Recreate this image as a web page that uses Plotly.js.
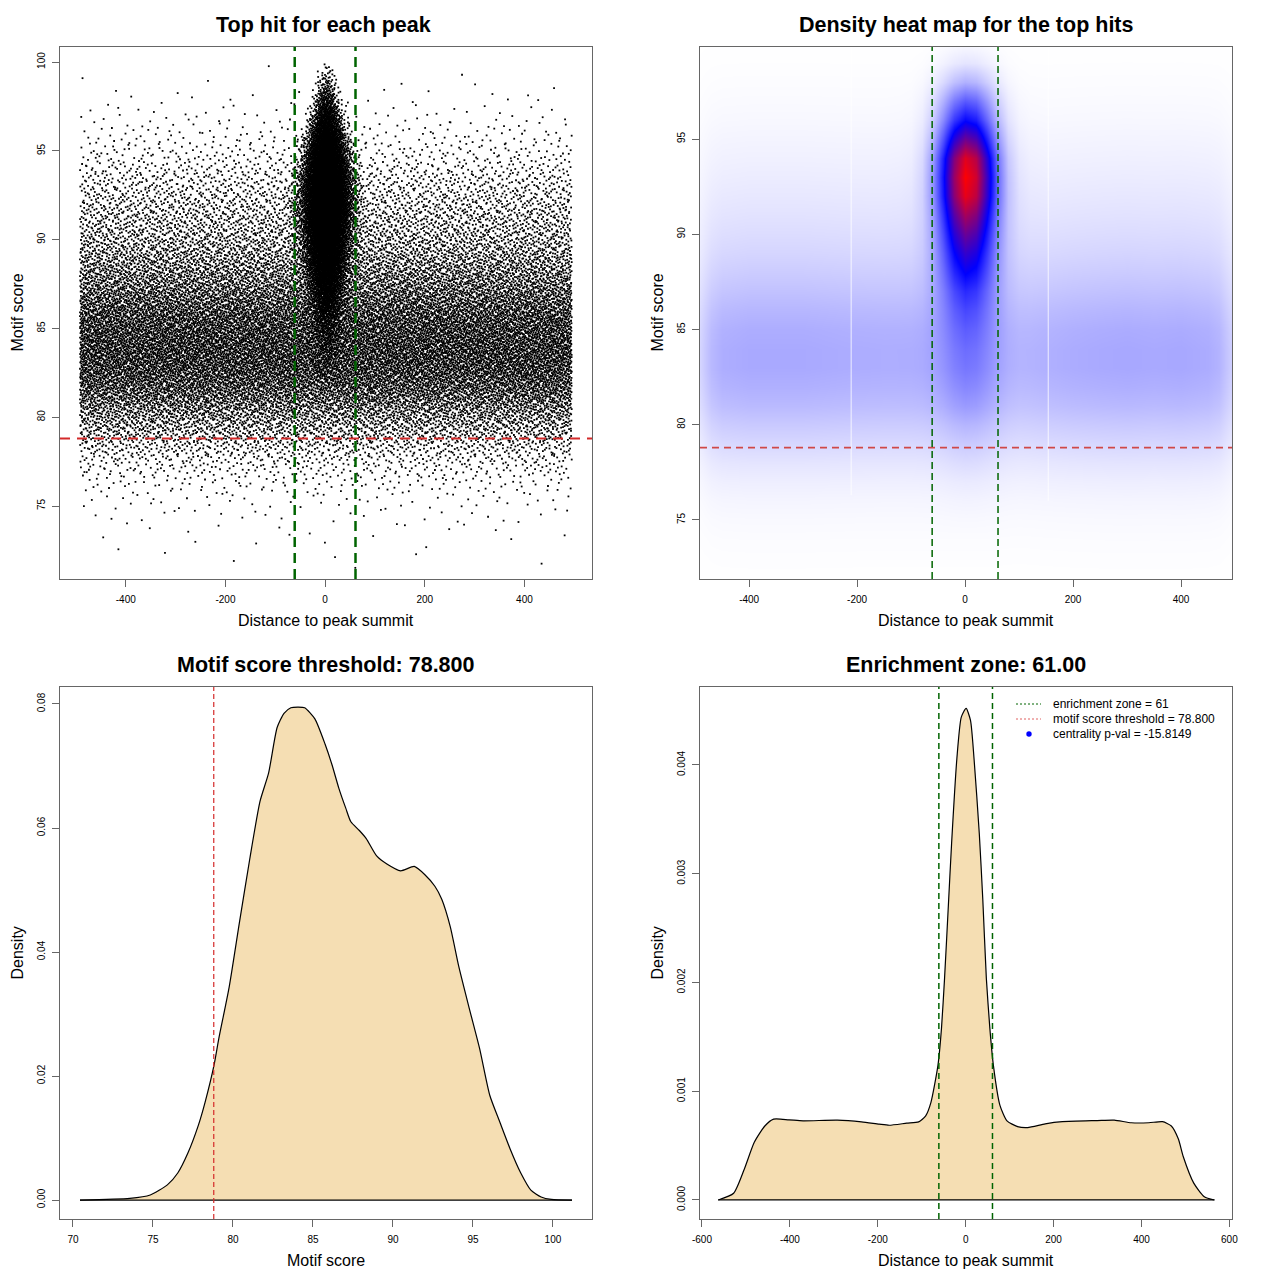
<!DOCTYPE html>
<html><head><meta charset="utf-8">
<script src="https://cdn.plot.ly/plotly-3.0.1.min.js"></script>
<style>html,body{margin:0;padding:0;background:#fff}#chart{width:1280px;height:1280px}</style>
</head><body><div id="chart"></div>
<script>
// ================= data =================
// Panel 1 (scatter): hits per score unit, background hits vs. central cluster
const scoreBins = [71.5,72.5,73.5,74.5,75.5,76.5,77.5,78.5,79.5,80.5,81.5,82.5,83.5,84.5,85.5,86.5,87.5,88.5,89.5,90.5,91.5,92.5,93.5,94.5,95.5,96.5,97.5,98.5,99.5];
const bgScoreDensity = [0.0001,0.0002,0.0004,0.0009,0.0018,0.0045,0.0095,0.018,0.030,0.044,0.061,0.073,0.078,0.077,0.071,0.060,0.048,0.039,0.030,0.024,0.0205,0.016,0.012,0.007,0.004,0.002,0.001,0.0003,0.0001];
const peakScoreDensity = [0,0,0,0,0,0,0,0,0,0,0,0.0005,0.001,0.002,0.004,0.008,0.013,0.019,0.024,0.029,0.033,0.035,0.033,0.027,0.019,0.012,0.006,0.0022,0.0006];
const peakSpread = [14,14,14,14,14,14,14,14,14,14,14,14,14,15,16,17,19,21,23,24,25,25,24,22,20,17,14,11,9];
const peakBellOffsets = [-3,-2.5,-2,-1.5,-1,-0.5,0,0.5,1,1.5,2,2.5,3];
const peakBellShape   = [0.011,0.044,0.135,0.325,0.607,0.882,1,0.882,0.607,0.325,0.135,0.044,0.011];
const peakCentre = 3;
const bgDistanceRange = [-492, 495];
const nHits = 36000;

// Panel 2 (density heat map)
const heatX = [-491,-470,-450,-400,-350,-300,-250,-200,-150,-120,-100,-80,-60,-40,-20,0,20,40,60,80,100,120,150,200,250,300,350,400,450,470,494];
const heatBgX = [0.5,0.82,0.95,1.0,1.0,1.0,0.98,0.96,0.95,0.95,0.95,0.95,0.95,0.95,0.95,0.95,0.95,0.95,0.92,0.88,0.86,0.88,0.92,0.97,1.0,1.02,1.0,1.02,0.97,0.88,0.55];
const heatPeakX = [0,0,0,0,0,0,0,0,0,0.002,0.008,0.05,0.19,0.45,0.79,0.99,0.9,0.59,0.28,0.09,0.023,0.005,0,0,0,0,0,0,0,0,0];
const heatY = [72,73,74,75,76,77,78,79,80,81,82,83,84,85,86,87,88,89,90,91,92,93,94,95,96,97,98,99,100];
const heatBgY = [0.002,0.004,0.007,0.012,0.02,0.033,0.052,0.078,0.105,0.135,0.155,0.168,0.168,0.16,0.142,0.12,0.1,0.082,0.068,0.056,0.046,0.037,0.029,0.022,0.015,0.01,0.006,0.003,0.001];
const heatPeakY = [0,0,0,0.002,0.005,0.01,0.02,0.03,0.045,0.07,0.09,0.11,0.13,0.17,0.23,0.31,0.42,0.53,0.65,0.78,0.92,0.97,0.92,0.7,0.48,0.32,0.15,0.05,0.01];

// Panel 3 (density of motif scores)
const scoreX = [70.44,73.55,74.83,75.9,76.55,77.19,77.83,78.26,78.82,79.12,79.76,80.4,81.05,81.69,82.23,82.76,83.19,83.62,84.05,84.48,85.12,85.76,86.19,86.62,87.05,87.37,87.9,88.33,88.98,89.62,90.48,91.33,91.98,92.62,93.05,93.58,94.12,94.76,95.41,96.05,96.69,97.33,97.98,98.62,99.26,99.9,101.19];
const scoreDensity = [0,0.00027,0.00082,0.00245,0.00436,0.00762,0.0120,0.0158,0.0218,0.0261,0.0343,0.0447,0.0550,0.0643,0.0689,0.0762,0.0785,0.0794,0.0795,0.0794,0.0776,0.0735,0.0702,0.0664,0.0632,0.0610,0.0596,0.0583,0.0555,0.0542,0.0531,0.0538,0.0525,0.0506,0.0485,0.0441,0.0376,0.0310,0.0245,0.0169,0.0125,0.0082,0.0044,0.0016,0.0005,0.0001,0];

// Panel 4 (density of distances)
const distX = [-563,-528,-504,-481,-457,-437,-402,-370,-292,-237,-197,-174,-134,-107,-91,-79,-63,-55,-48,-40,-32,-20,-10,1,11,19,31,39,47,55,63,78,94,118,141,181,220,299,338,377,417,448,468,484,495,519,543,566];
const distDensity = [0,0.000062,0.00028,0.00053,0.00068,0.000743,0.000737,0.000728,0.000734,0.000718,0.000697,0.000687,0.000706,0.000718,0.000774,0.000898,0.00124,0.00158,0.00204,0.00266,0.00328,0.00406,0.00444,0.00452,0.00441,0.00406,0.00337,0.00276,0.00204,0.00158,0.00124,0.00087,0.000728,0.000675,0.000666,0.0007,0.00072,0.00073,0.000734,0.00071,0.00071,0.00072,0.00068,0.00056,0.0004,0.000155,0.00003,0];

const enrichmentZone = 61;
const scoreThreshold = 78.8;

// ticks
const distTicks = [-400,-200,0,200,400];
const distTickText = ['-400','-200','0','200','400'];
const dist4Ticks = [-600,-400,-200,0,200,400,600];
const dist4TickText = ['-600','-400','-200','0','200','400','600'];
const score1Ticks = [75,80,85,90,95,100];
const score2Ticks = [75,80,85,90,95];
const score3Ticks = [70,75,80,85,90,95,100];
const dens3Ticks = [0,0.02,0.04,0.06,0.08];
const dens3Text = ['0.00','0.02','0.04','0.06','0.08'];
const dens4Ticks = [0,0.001,0.002,0.003,0.004];
const dens4Text = ['0.000','0.001','0.002','0.003','0.004'];

const titles = ['Top hit for each peak','Density heat map for the top hits','Motif score threshold: 78.800','Enrichment zone: 61.00'];
const legendText = ['enrichment zone = 61','motif score threshold = 78.800','centrality p-val = -15.8149'];

// ================= helpers =================
// deterministic low-discrepancy placement of the hits inside the read densities
function halton(i, b){ let f=1, r=0; while(i>0){ f/=b; r+=f*(i%b); i=Math.floor(i/b);} return r; }
function interp(xs, ys, x){
  if (x<=xs[0]) return ys[0];
  if (x>=xs[xs.length-1]) return ys[ys.length-1];
  let k=0; while (xs[k+1]<x) k++;
  const t=(x-xs[k])/(xs[k+1]-xs[k]); return ys[k]+t*(ys[k+1]-ys[k]);
}
function sampler(xs, ds){
  const M=3000, x0=xs[0], x1=xs[xs.length-1], st=(x1-x0)/M;
  const gx=[x0], cdf=[0]; let prev=interp(xs,ds,x0), acc=0;
  for(let k=1;k<=M;k++){ const x=x0+k*st, d=interp(xs,ds,x); acc+=(prev+d)/2*st; prev=d; gx.push(x); cdf.push(acc); }
  return function(u){
    const tgt=u*acc; let lo=0, hi=M;
    while(hi-lo>1){ const m=(lo+hi)>>1; if(cdf[m]<tgt) lo=m; else hi=m; }
    const span=cdf[hi]-cdf[lo]; const t= span>0 ? (tgt-cdf[lo])/span : 0;
    return gx[lo]+t*(gx[hi]-gx[lo]);
  };
}
const edgeX = [scoreBins[0]-0.5].concat(scoreBins, [scoreBins[scoreBins.length-1]+0.5]);
const bgSample = sampler(edgeX, [0].concat(bgScoreDensity,[0]));
const pkSample = sampler(edgeX, [0].concat(peakScoreDensity,[0]));
const bellSample = sampler(peakBellOffsets, peakBellShape);
const sumBg = bgScoreDensity.reduce((a,b)=>a+b,0), sumPk = peakScoreDensity.reduce((a,b)=>a+b,0);
const nBg = Math.round(nHits*sumBg/(sumBg+sumPk)), nPk = nHits-nBg;
const LEAP = 409;
const hitX=[], hitY=[];
for(let i=1;i<=nBg;i++){
  const k=i*LEAP;
  hitY.push(bgSample(halton(k,2)));
  hitX.push(bgDistanceRange[0]+halton(k,3)*(bgDistanceRange[1]-bgDistanceRange[0]));
}
for(let i=1;i<=nPk;i++){
  const k=i*LEAP+17;
  const y=pkSample(halton(k,2));
  const sd=interp(scoreBins, peakSpread, y);
  hitY.push(y);
  hitX.push(peakCentre+sd*bellSample(halton(k,3)));
}
const heatZ = heatY.map((_,j)=>heatX.map((_,i)=>heatBgY[j]*heatBgX[i]+heatPeakY[j]*heatPeakX[i]));

// ================= layout =================
const W=1280, H=1280;
const px=v=>v/W, py=v=>1-v/H;
const FONT='Liberation Sans, Arial, Helvetica, sans-serif';
const frame='#666666';
function axis(dom, range, tv, tt, extra){
  return Object.assign({domain:dom, range:range, tickmode:'array', tickvals:tv, ticktext:tt||tv.map(String),
    ticks:'outside', ticklen:7, tickwidth:1, tickcolor:frame, showgrid:false, zeroline:false,
    showline:true, mirror:true, linecolor:frame, linewidth:1, tickfont:{family:FONT,size:10,color:'#000'}, fixedrange:true}, extra||{});
}
const colL=[px(60),px(592)], colR=[px(700),px(1232)];
const rowT=[py(579),py(47)], rowB=[py(1219),py(687)];

const traces = [
  {type:'scatter', mode:'markers', x:hitX, y:hitY, xaxis:'x', yaxis:'y', hoverinfo:'skip',
   marker:{symbol:'square', size:1.8, color:'#000', line:{width:0}}, showlegend:false},
  {type:'heatmap', x:heatX, y:heatY, z:heatZ, xaxis:'x2', yaxis:'y2', zsmooth:'best', zmin:0, zmax:1,
   colorscale:[[0,'#FFFFFF'],[0.5,'#0000FF'],[1,'#FF0000']], showscale:false, hoverinfo:'skip'},
  {type:'scatter', mode:'lines', x:scoreX, y:scoreDensity, xaxis:'x3', yaxis:'y3',
   fill:'tozeroy', fillcolor:'#F5DEB3', line:{color:'#000', width:1.2, shape:'spline', smoothing:0.6}, showlegend:false, hoverinfo:'skip'},
  {type:'scatter', mode:'lines', x:[scoreX[0], scoreX[scoreX.length-1]], y:[0,0], xaxis:'x3', yaxis:'y3',
   line:{color:'#000', width:1.2}, showlegend:false, hoverinfo:'skip'},
  {type:'scatter', mode:'lines', x:distX, y:distDensity, xaxis:'x4', yaxis:'y4',
   fill:'tozeroy', fillcolor:'#F5DEB3', line:{color:'#000', width:1.2, shape:'spline', smoothing:0.6}, showlegend:false, hoverinfo:'skip'},
  {type:'scatter', mode:'lines', x:[distX[0], distX[distX.length-1]], y:[0,0], xaxis:'x4', yaxis:'y4',
   line:{color:'#000', width:1.2}, showlegend:false, hoverinfo:'skip'}
];

function vline(xr, x, color, w, dash){ return {type:'line', xref:xr, yref:xr.replace('x','y')+' domain', x0:x, x1:x, y0:0, y1:1, line:{color:color,width:w,dash:dash}}; }
function hline(yr, y, color, w, dash){ return {type:'line', yref:yr, xref:yr.replace('y','x')+' domain', y0:y, y1:y, x0:0, x1:1, line:{color:color,width:w,dash:dash}}; }
const shapes = [
  hline('y', scoreThreshold, '#D42A2A', 2, '10px,7px'),
  vline('x', -enrichmentZone, '#006400', 2.5, '10px,6px'),
  vline('x', enrichmentZone, '#006400', 2.5, '10px,6px'),
  {type:'line', xref:'x2', yref:'y2', x0:-211, x1:-211, y0:76.3, y1:99.83, line:{color:'rgba(255,255,255,0.8)', width:1}},
  {type:'line', xref:'x2', yref:'y2', x0:154, x1:154, y0:76, y1:99.83, line:{color:'rgba(255,255,255,0.8)', width:1}},
  hline('y2', scoreThreshold, '#D04848', 1.8, '7px,5px'),
  vline('x2', -enrichmentZone, '#006400', 1.5, '7px,4px'),
  vline('x2', enrichmentZone, '#006400', 1.5, '7px,4px'),
  vline('x3', scoreThreshold, '#D42A2A', 1.2, '5px,3px'),
  vline('x4', -enrichmentZone, '#006400', 1.5, '6px,4px'),
  vline('x4', enrichmentZone, '#006400', 1.5, '6px,4px'),
  // legend samples
  {type:'line', xref:'paper', yref:'paper', x0:px(1016), x1:px(1041), y0:py(704), y1:py(704), line:{color:'#006400', width:1, dash:'2px,2px'}},
  {type:'line', xref:'paper', yref:'paper', x0:px(1016), x1:px(1041), y0:py(719), y1:py(719), line:{color:'#E06060', width:1, dash:'2px,2px'}},
  {type:'circle', xref:'paper', yref:'paper', x0:px(1026.3), x1:px(1031.7), y0:py(736.7), y1:py(731.3), fillcolor:'#0000FF', line:{color:'#0000FF', width:0}}
];

function ann(text, x, y, size, extra){ return Object.assign({xref:'paper', yref:'paper', x:px(x), y:py(y), text:text, showarrow:false,
  xanchor:'center', yanchor:'middle', font:{family:FONT, size:size, color:'#000'}}, extra||{}); }
const annotations = [
  ann('<b>'+titles[0]+'</b>', 323, 24.5, 21.5), ann('<b>'+titles[1]+'</b>', 966, 24.5, 21.5),
  ann('<b>'+titles[2]+'</b>', 326, 664.5, 21.5), ann('<b>'+titles[3]+'</b>', 966, 664.5, 21.5),
  ann('Distance to peak summit', 326, 620.5, 16), ann('Distance to peak summit', 966, 620.5, 16),
  ann('Motif score', 326, 1260.5, 16), ann('Distance to peak summit', 966, 1260.5, 16),
  ann('Motif score', 16.5, 313, 16, {textangle:-90}), ann('Motif score', 656.5, 313, 16, {textangle:-90}),
  ann('Density', 16.5, 953, 16, {textangle:-90}), ann('Density', 656.5, 953, 16, {textangle:-90}),
  ann(legendText[0], 1051, 704, 12, {xanchor:'left'}),
  ann(legendText[1], 1051, 719, 12, {xanchor:'left'}),
  ann(legendText[2], 1051, 734, 12, {xanchor:'left'})
];

const layout = {
  width:W, height:H, margin:{l:0,r:0,t:0,b:0}, paper_bgcolor:'#fff', plot_bgcolor:'#fff', showlegend:false,
  font:{family:FONT},
  xaxis: axis(colL, [-532,535.6], distTicks, distTickText, {anchor:'y', ticklabelstandoff:4}),
  yaxis: axis(rowT, [70.89,100.85], score1Ticks, null, {anchor:'x', tickangle:-90, ticklabelstandoff:3}),
  xaxis2: axis(colR, [-491,494.4], distTicks, distTickText, {anchor:'y2', ticklabelstandoff:4}),
  yaxis2: axis(rowT, [71.9,99.83], score2Ticks, null, {anchor:'x2', tickangle:-90, ticklabelstandoff:3}),
  xaxis3: axis(colL, [69.19,102.44], score3Ticks, null, {anchor:'y3', ticklabelstandoff:4}),
  yaxis3: axis(rowB, [-0.00306,0.08274], dens3Ticks, dens3Text, {anchor:'x3', tickangle:-90, ticklabelstandoff:3}),
  xaxis4: axis(colR, [-604.5,606], dist4Ticks, dist4TickText, {anchor:'y4', ticklabelstandoff:4}),
  yaxis4: axis(rowB, [-0.000175,0.004717], dens4Ticks, dens4Text, {anchor:'x4', tickangle:-90, ticklabelstandoff:3}),
  shapes: shapes, annotations: annotations
};
Plotly.newPlot('chart', traces, layout, {staticPlot:true, displayModeBar:false});
</script></body></html>
